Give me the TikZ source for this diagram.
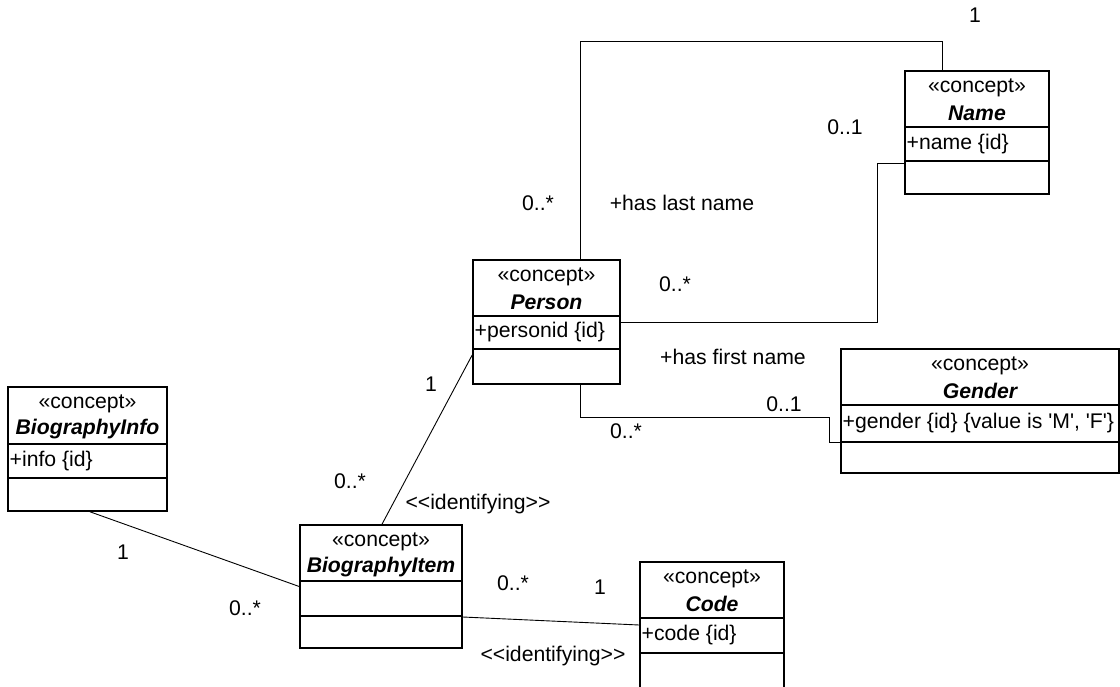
\documentclass[tikz,border=0pt]{standalone}
\usepackage{fontspec}
\newfontfamily\lsans{Liberation Sans}
\usetikzlibrary{fit}
\tikzset{
  box/.style={draw, line width=1.6pt, inner sep=0pt},
  sep/.style={line width=1.6pt},
  conn/.style={line width=0.9pt},
  lbl/.style={font=\lsans\fontsize{21.2}{25}\selectfont, inner sep=0pt},
  cname/.style={font=\lsans\fontsize{21.2}{25}\selectfont\bfseries\itshape, inner sep=0pt},
}
% name, x1, y1, x2, y2, y header line, y attribute line, class name, attribute
\newcommand{\umlclass}[9]{%
  \node[box, fit={(#2,#3) (#4,#5)}] (#1) {};
  \draw[sep] (#2,#6) -- (#4,#6);
  \draw[sep] (#2,#7) -- (#4,#7);
  \node[lbl] (#1-st) at ({(#2+#4)/2},{#3+17}) {«concept»};
  \node[cname] (#1-nm) at ({(#2+#4)/2},{#3+42}) {#8};
  \node[lbl, anchor=west] (#1-at) at ({#2+1.5},{(#6+#7)/2}) {#9};
}
\begin{document}
\begin{tikzpicture}[x=1pt, y=-1pt]
\useasboundingbox (0,0) rectangle (1120,686);

\umlclass{name}{905}{71}{1049}{194}{127}{161}{Name}{+name \{id\}}
\umlclass{person}{473}{260}{620}{384}{316}{349}{Person}{+personid \{id\}}
\umlclass{gender}{841}{349}{1119}{473}{405}{442}{Gender}{+gender \{id\} \{value is 'M', 'F'\}}
\umlclass{bioinfo}{8}{387}{167}{511}{444}{478}{BiographyInfo}{+info \{id\}}
\umlclass{bioitem}{300}{525}{462}{648}{581}{616}{BiographyItem}{}
\umlclass{code}{640}{562}{784}{688}{618}{653}{Code}{+code \{id\}}

% has last name
\draw[conn] ([xshift=34pt]person.north) |- ([xshift=-35pt,yshift=29pt]name.north) -- ([xshift=-35pt]name.north);
% has first name (to Name)
\draw[conn] ([yshift=-30.5pt]name.west) -- ++(-27,0) |- (person.east);
% has gender
\draw[conn] ([xshift=34pt]person.south) -- ++(0,33) -| ([xshift=-11pt,yshift=-31pt]gender.west) -- ([yshift=-31pt]gender.west);
% identifying Person - BiographyItem
\draw[conn] ([xshift=1pt]bioitem.north) -- ([yshift=-33pt]person.west);
% BiographyInfo - BiographyItem
\draw[conn] ([xshift=2.5pt]bioinfo.south) -- (bioitem.west);
% BiographyItem - Code
\draw[conn] ([yshift=-30.5pt]bioitem.east) -- (code.west);

% multiplicities and roles
\node[lbl] (m1) at (975,15) {1};
\node[lbl] (m2) at (845,127) {0..1};
\node[lbl] (m3) at (538,203) {0..*};
\node[lbl] (r1) at (682,203) {+has last name};
\node[lbl] (m4) at (675,284) {0..*};
\node[lbl] (r2) at (733,357) {+has first name};
\node[lbl] (m5) at (784,404) {0..1};
\node[lbl] (m6) at (626,431) {0..*};
\node[lbl] (m7) at (431,384) {1};
\node[lbl] (m8) at (350,481) {0..*};
\node[lbl] (s1) at (478,504) {<<identifying>>};
\node[lbl] (m9) at (123,552) {1};
\node[lbl] (m10) at (245,608) {0..*};
\node[lbl] (m11) at (513,583) {0..*};
\node[lbl] (m12) at (600,587) {1};
\node[lbl] (s2) at (553,656) {<<identifying>>};
\end{tikzpicture}
\end{document}
